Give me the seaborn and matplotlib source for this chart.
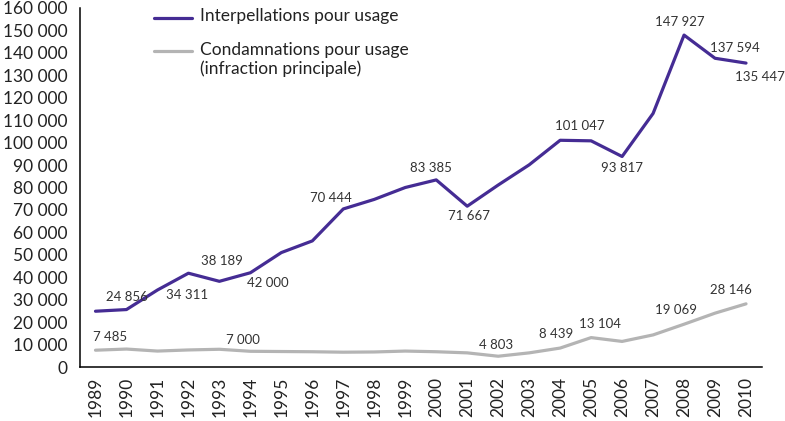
import numpy as np
import pandas as pd
import matplotlib
matplotlib.use("Agg")
import matplotlib.pyplot as plt
import seaborn as sns

# Annual series, 1989-2010
years = [str(y) for y in range(1989, 2011)]
interpellations = [24856, 25600, 34311, 41800, 38189, 42000, 51000, 56200,
                   70444, 74700, 80000, 83385, 71667, 81100, 90100, 101047,
                   100800, 93817, 113000, 147927, 137594, 135447]
condamnations = [7485, 8000, 7100, 7600, 7900, 7000, 6900, 6800, 6600,
                 6700, 7100, 6800, 6300, 4803, 6300, 8439, 13104, 11400,
                 14300, 19069, 24000, 28146]

series_names = ["Interpellations pour usage",
                "Condamnations pour usage\n(infraction principale)"]
colors = ["#452c94", "#b4b4b4"]

# Which points carry a value label, and where the label sits (pixel offsets)
interp_labelled = [0, 2, 4, 5, 8, 11, 12, 15, 17, 19, 20, 21]
interp_offsets = [(31, 14), (30, -5), (3, 20), (17, -10), (-12, 11), (-5, 12),
                  (2, -10), (20, 14), (0, -12), (-4, 13), (20, 10), (14, -14)]
cond_labelled = [0, 5, 13, 15, 16, 19, 21]
cond_offsets = [(15, 13), (-7, 11), (-2, 11), (-4, 14), (9, 14), (-8, 14),
                (-15, 14)]

df = pd.DataFrame({
    "idx": list(range(len(years))) * 2,
    "value": interpellations + condamnations,
    "serie": [series_names[0]] * len(years) + [series_names[1]] * len(years),
})

sns.set_style("white")
plt.rcParams["font.family"] = ["Lato", "DejaVu Sans"]


def fmt(v):
    return f"{int(v):,}".replace(",", " ")


fig = plt.figure(figsize=(7.85, 4.21), dpi=100)
ax = fig.add_axes([80 / 785, 1 - 367 / 421, (761.5 - 80) / 785, (367 - 8) / 421])

sns.lineplot(data=df, x="idx", y="value", hue="serie", palette=colors,
             linewidth=2.3, legend=False, ax=ax, sort=False)
ax.lines[1].set_zorder(1)

ax.set_xlim(-0.5, len(years) - 0.5)
ax.set_ylim(0, 160000)
ax.set_xlabel("")
ax.set_ylabel("")

# x axis: year labels at category centres, ticks on the boundaries
ax.set_xticks(range(len(years)))
ax.set_xticklabels(years, rotation=90, fontsize=12.5, color="#222222")
ax.tick_params(axis="x", which="major", length=0, pad=7)
ax.set_xticks(np.arange(-0.5, len(years), 1), minor=True)
ax.tick_params(axis="x", which="minor", direction="in", length=6, width=1.1,
               color="black")

# y axis
yt = list(range(0, 160001, 10000))
ax.set_yticks(yt)
ax.set_yticklabels([fmt(v) for v in yt], fontsize=12.5, color="#222222")
ax.tick_params(axis="y", direction="in", length=11, width=1.1, color="black",
               pad=9)

for side in ["top", "right"]:
    ax.spines[side].set_visible(False)
for side in ["left", "bottom"]:
    ax.spines[side].set_color("black")
    ax.spines[side].set_linewidth(1.1)

# value labels
for i, (dx, dy) in zip(interp_labelled, interp_offsets):
    ax.annotate(fmt(interpellations[i]), (i, interpellations[i]),
                xytext=(dx, dy), textcoords="offset pixels",
                ha="center", va="center", fontsize=9.5, color="#333333")
for i, (dx, dy) in zip(cond_labelled, cond_offsets):
    ax.annotate(fmt(condamnations[i]), (i, condamnations[i]),
                xytext=(dx, dy), textcoords="offset pixels",
                ha="center", va="center", fontsize=9.5, color="#333333")

# legend
fig_w, fig_h = 785, 421
for name, col, ypx in zip(series_names, colors, [17.5, 50.5]):
    fig.add_artist(plt.Line2D([154 / fig_w, 192 / fig_w],
                              [1 - ypx / fig_h, 1 - ypx / fig_h],
                              color=col, linewidth=2.3))
    fig.text(200 / fig_w, 1 - (ypx - 9) / fig_h, name, ha="left", va="top",
             fontsize=12.5, color="#222222", linespacing=1.2)

fig.savefig("out.png", dpi=100)
